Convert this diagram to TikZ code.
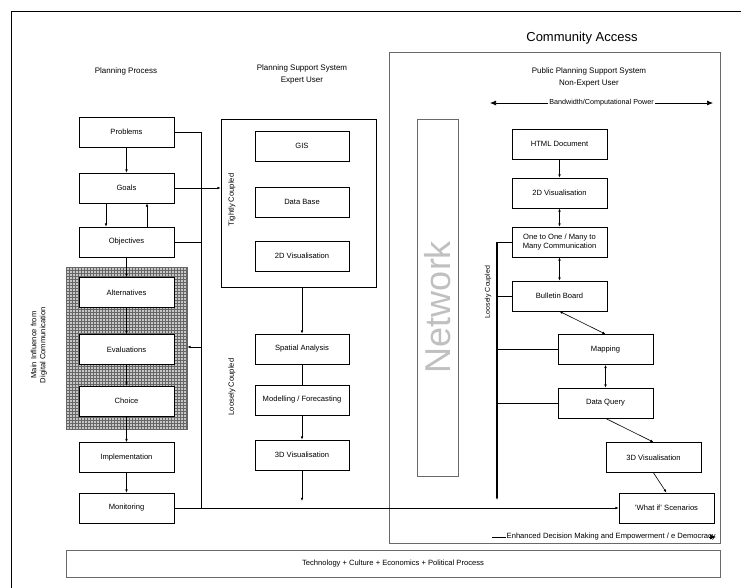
\documentclass[tikz,border=0pt]{standalone}
\usepackage{fontspec}
\setmainfont{Liberation Sans}
\usetikzlibrary{arrows.meta,calc,patterns}
\definecolor{frameGrey}{RGB}{105,105,105}
\definecolor{netGrey}{RGB}{192,192,192}

\begin{document}
\begin{tikzpicture}[x=1pt,y=-1pt,>={Latex[length=3.2pt,width=2.6pt]},
 stage/.style={draw,line width=.7pt,fill=white,minimum width=95pt,minimum height=30pt,inner sep=1pt,align=center,font=\fontsize{7.6}{9}\selectfont},
 caption/.style={font=\fontsize{7.6}{9}\selectfont,align=center},
 header/.style={font=\fontsize{8}{12}\selectfont,align=center},
 link/.style={line width=.6pt},
 bigtip/.style={line width=.7pt,arrows={-Latex[length=6pt,width=5pt]}}]
\useasboundingbox (0,0) rectangle (741,588);
\draw[line width=.7pt] (741,11) -- (11,11) -- (11,588);
% titles
\node[font=\fontsize{13}{15}\selectfont] (ctitle) at (582,38) {Community Access};
\node[header] (hplan) at (126,71) {Planning Process};
\node[header] (hexp) at (302,74) {Planning Support System\\Expert User};
\node[header] (hpub) at (589,77) {Public Planning Support System\\Non-Expert User};
% frames
\node[draw=frameGrey,line width=.9pt,minimum width=331pt,minimum height=491pt] (public) at (554.5,297.5) {};
\node[draw=frameGrey,line width=.9pt,minimum width=654pt,minimum height=27pt,caption] (society) at (393,563.5) {Technology + Culture + Economics + Political Process};
\node[draw=frameGrey,line width=.8pt,minimum width=41pt,minimum height=357pt] (net) at (437.5,297.5) {};
\node[rotate=90,text=netGrey,font=\fontsize{36}{36}\selectfont] (netlbl) at ([yshift=-9.5pt]net.center) {Network};
\node[draw=black!60,line width=.6pt,fill=black!22,postaction={pattern=grid,pattern color=black!60},minimum width=121pt,minimum height=162pt] (infl) at (126.5,348) {};
\node[draw,line width=.7pt,minimum width=155pt,minimum height=168pt] (tight) at (298.5,203) {};
% planning process
\node[stage] (prob) at (126.5,132) {Problems};
\node[stage] (goals) at (126.5,188) {Goals};
\node[stage] (obj) at (126.5,242) {Objectives};
\node[stage] (alt) at (126.5,292.5) {Alternatives};
\node[stage] (eval) at (126.5,349.5) {Evaluations};
\node[stage] (choice) at (126.5,401) {Choice};
\node[stage] (impl) at (126.5,457.5) {Implementation};
\node[stage] (mon) at (126.5,508) {Monitoring};
% expert system
\node[stage,minimum width=94pt] (gis) at (302,146) {GIS};
\node[stage,minimum width=94pt] (db) at (302,202) {Data Base};
\node[stage,minimum width=94pt] (vis2) at (302,256) {2D Visualisation};
\node[stage,minimum width=94pt] (spat) at (302,349) {Spatial Analysis};
\node[stage,minimum width=94pt] (model) at (302,400) {Modelling / Forecasting};
\node[stage,minimum width=94pt] (vis3) at (302,455) {3D Visualisation};
% public system
\node[stage] (html) at (559.5,144) {HTML Document};
\node[stage] (rvis2) at (559.5,193) {2D Visualisation};
\node[stage] (comm) at (559.5,242) {One to One / Many to\\Many Communication};
\node[stage] (bull) at (559.5,296) {Bulletin Board};
\node[stage] (mapn) at (605.5,349.5) {Mapping};
\node[stage] (query) at (605.5,403) {Data Query};
\node[stage] (rvis3) at (653.5,457.5) {3D Visualisation};
\node[stage] (whatif) at (666.5,508) {'What if' Scenarios};
% side labels
\node[caption,rotate=90] (influence) at (39,345) {Main Influence from\\Digital Communication};
\node[caption,rotate=90] (tightlbl) at (232,200) {Tightly Coupled};
\node[caption,rotate=90] (looselbl) at (232,387) {Loosely Coupled};
\node[caption,rotate=90,font=\fontsize{7}{8}\selectfont] (rlooselbl) at (488,292) {Loosely Coupled};
% bandwidth and empowerment
\coordinate (bwL) at (490,103);
\coordinate (bwR) at (713,103);
\draw[line width=.7pt,{Latex[length=6pt,width=5pt]}-{Latex[length=6pt,width=5pt]}] (bwL) -- (bwR)
 node[midway,fill=white,inner sep=1pt,font=\fontsize{7.2}{8}\selectfont] (bw) {Bandwidth/Computational Power};
\node[caption,fill=white,inner sep=1pt,anchor=east] (empower) at (717,537) {Enhanced Decision Making and Empowerment / e Democracy};
\coordinate (edL) at (492,537);
\coordinate (edR) at (716,537);
\draw[line width=.7pt] (edL) -- (empower.west);
\draw[bigtip] ([xshift=-7pt]edR) -- (edR);
% process links
\draw[link,->] (prob) -- (goals);
\draw[link,->] ([xshift=-20.5pt]goals.south) -- ([xshift=-20.5pt]obj.north);
\draw[link,->] ([xshift=20.5pt]obj.north) -- ([xshift=20.5pt]goals.south);
\draw[link,->] (obj) -- (alt);
\draw[link,->] (alt) -- (eval);
\draw[link,->] (eval) -- (choice);
\draw[link,->] (choice) -- (impl);
\draw[link,->] (impl) -- (mon);
\coordinate (busT) at (201,132);
\coordinate (busB) at (201,508);
\draw[link] (prob.east) -- (busT) -- (busB);
\draw[link] (obj.east) -- (obj.east -| busT);
\draw[link,->] (goals.east) -- (goals.east -| tight.west);
\draw[link,->] ($(eval.east -| busT)+(0,-2.5)$) -- ($(eval.east -| infl.east)+(0,-2.5)$);
\draw[link,->] (mon.east) -- (whatif.west);
% expert links
\draw[link,->] (spat.north |- tight.south) -- (spat.north);
\draw[link] (spat) -- (model);
\draw[link,->] (model) -- (vis3);
\coordinate (v3end) at (302,501);
\draw[link,->] (vis3.south) -- (v3end);
% public links
\draw[link,->] (html) -- (rvis2);
\draw[link,<->] (rvis2) -- (comm);
\draw[link,<->] (comm) -- (bull);
\draw[link,<->] (bull.south) -- (mapn.north);
\draw[link,<->] (mapn) -- (query);
\draw[link,->] (query.south) -- (rvis3.north);
\draw[link,->] (rvis3.south) -- (whatif.north);
\coordinate (rbusT) at (497,242);
\coordinate (rbusB) at (497,500);
\draw[link] (comm.west) -- (rbusT);
\draw[line width=1.2pt,->] (rbusT) -- (rbusB);
\draw[link] (bull.west) -- (bull.west -| rbusT);
\draw[link] (mapn.west) -- (mapn.west -| rbusT);
\draw[link] (query.west) -- (query.west -| rbusT);
\end{tikzpicture}
\end{document}
